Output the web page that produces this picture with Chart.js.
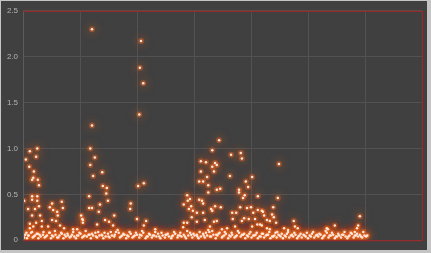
<!DOCTYPE html>
<html>
<head>
<meta charset="utf-8">
<script src="https://cdn.jsdelivr.net/npm/chart.js@4"></script>
<style>
  html, body { margin: 0; padding: 0; background: #c4c4c4; }
  #wrap { position: absolute; left: 1px; top: 1px; width: 426px; height: 249px; background: #404040; }
</style>
</head>
<body>
<div id="wrap"><canvas id="myChart" width="426" height="249"></canvas></div>
<script>
//y tick labels as shown on the left
var yTicks = [0, 0.5, 1, 1.5, 2, 2.5];

//scattered values above the floor, [x, y]
var spikes = [
  [1.21,2.30],[2.07,2.17],[2.05,1.88],[2.11,1.71],[2.04,1.37],[1.21,1.25],
  [1.18,1.00],[1.26,0.90],[1.18,0.82],[1.23,0.70],[1.39,0.74],[1.40,0.59],[1.47,0.57],[1.46,0.51],
  [1.16,0.48],[1.49,0.43],[1.35,0.39],[1.16,0.35],[1.21,0.35],[1.33,0.31],[1.60,0.27],[1.44,0.22],
  [1.51,0.20],[1.04,0.23],[1.05,0.19],[1.58,0.16],[1.30,0.17],
  [2.02,0.59],[2.12,0.62],[1.89,0.40],[1.88,0.34],[2.00,0.23],[2.16,0.21],[2.12,0.16],
  [0.12,0.97],[0.25,1.00],[0.05,0.88],[0.23,0.91],[0.11,0.80],[0.19,0.75],[0.18,0.68],[0.16,0.66],
  [0.26,0.66],[0.28,0.60],[0.02,0.43],[0.16,0.48],[0.25,0.48],[0.16,0.44],[0.25,0.43],[0.09,0.34],
  [0.21,0.34],[0.28,0.37],[0.16,0.27],[0.30,0.27],[0.33,0.21],[0.12,0.18],[0.23,0.19],[0.33,0.15],
  [0.18,0.15],[0.12,0.13],
  [0.51,0.40],[0.68,0.42],[0.47,0.36],[0.53,0.33],[0.60,0.31],[0.70,0.35],[0.61,0.27],[0.51,0.22],
  [0.58,0.21],[0.65,0.16],[0.72,0.13],[0.44,0.15],[1.02,0.27],[1.05,0.22],[0.95,0.12],[0.88,0.12],
  [2.88,0.49],[2.82,0.39],[2.89,0.43],[2.91,0.34],[2.82,0.19],[2.81,0.14],[2.32,0.12],
  [3.44,1.09],[3.32,0.98],[3.65,0.93],[3.82,0.95],[3.84,0.89],[3.12,0.86],[3.21,0.85],[3.37,0.84],
  [3.40,0.82],[3.32,0.80],[3.35,0.75],[3.12,0.75],[3.63,0.70],[3.23,0.69],[4.02,0.69],[3.09,0.64],
  [3.16,0.64],[3.91,0.64],[3.25,0.60],[3.95,0.58],[3.40,0.55],[3.46,0.56],[3.25,0.52],[3.79,0.55],
  [3.79,0.52],[3.89,0.49],[3.86,0.46],[4.12,0.48],[2.93,0.45],[3.14,0.43],[3.16,0.40],[3.09,0.44],
  [2.95,0.37],[3.37,0.37],[3.47,0.36],[3.30,0.34],[3.32,0.32],[3.81,0.36],[3.93,0.35],[4.00,0.36],
  [4.12,0.33],[3.67,0.30],[3.74,0.30],[4.04,0.30],[2.98,0.32],[3.05,0.30],[3.16,0.30],[2.96,0.25],
  [3.05,0.20],[3.19,0.22],[3.35,0.20],[3.40,0.21],[3.68,0.23],[3.84,0.21],[3.88,0.24],[3.96,0.23],
  [4.07,0.23],[2.88,0.19],[3.28,0.15],[3.25,0.11],[3.49,0.12],[3.58,0.13],[3.72,0.15],[4.02,0.15],
  [4.11,0.17],[4.19,0.32],
  [4.49,0.83],[4.47,0.46],[4.39,0.36],[4.21,0.31],[4.37,0.28],[4.40,0.25],[4.23,0.27],[4.33,0.21],
  [4.28,0.22],[4.44,0.19],[4.16,0.17],[4.19,0.16],[4.28,0.13],[4.33,0.12],[4.75,0.21],[4.77,0.15],
  [4.82,0.13],[4.58,0.13],[4.46,0.09],[4.65,0.11],[5.47,0.16],[5.35,0.12],[5.33,0.13],[5.91,0.26],
  [5.88,0.16],[5.86,0.13],[5.82,0.09]
];

//the dense floor of values near zero, [x, y]
var floor = [
  [0.00,0.04],[0.04,0.06],[0.07,0.02],[0.10,0.05],[0.14,0.08],[0.17,0.03],[0.21,0.05],[0.24,0.07],
  [0.27,0.02],[0.31,0.04],[0.35,0.06],[0.38,0.03],[0.42,0.05],[0.46,0.08],[0.49,0.02],[0.53,0.04],
  [0.57,0.06],[0.60,0.03],[0.64,0.05],[0.68,0.07],[0.71,0.02],[0.75,0.04],[0.79,0.05],[0.82,0.03],
  [0.86,0.06],[0.90,0.04],[0.93,0.02],[0.97,0.05],[1.01,0.07],[1.04,0.03],[1.08,0.05],[1.12,0.04],
  [1.15,0.06],[1.19,0.02],[1.23,0.05],[1.27,0.08],[1.30,0.03],[1.34,0.05],[1.38,0.06],[1.41,0.02],
  [1.45,0.04],[1.49,0.07],[1.52,0.03],[1.56,0.05],[1.60,0.04],[1.63,0.09],[1.66,0.11],[1.70,0.03],
  [1.74,0.05],[1.78,0.06],[1.81,0.02],[1.85,0.04],[1.89,0.07],[1.92,0.03],[1.96,0.05],[2.00,0.06],
  [2.04,0.03],[2.08,0.05],[2.11,0.08],[2.15,0.02],[2.19,0.04],[2.23,0.06],[2.26,0.03],[2.30,0.05],
  [2.34,0.04],[2.37,0.07],[2.41,0.02],[2.45,0.05],[2.49,0.03],[2.52,0.06],[2.56,0.04],[2.60,0.02],
  [2.63,0.05],[2.67,0.07],[2.71,0.03],[2.75,0.05],[2.78,0.04],[2.82,0.06],[2.86,0.02],[2.90,0.05],
  [2.93,0.08],[2.97,0.03],[3.01,0.05],[3.05,0.06],[3.08,0.02],[3.12,0.04],[3.16,0.07],[3.19,0.03],
  [3.23,0.05],[3.27,0.09],[3.30,0.04],[3.34,0.06],[3.38,0.02],[3.41,0.05],[3.45,0.08],[3.49,0.03],
  [3.53,0.05],[3.56,0.07],[3.60,0.02],[3.64,0.04],[3.67,0.06],[3.71,0.03],[3.75,0.05],[3.79,0.08],
  [3.82,0.04],[3.86,0.06],[3.90,0.02],[3.93,0.05],[3.97,0.07],[4.01,0.03],[4.04,0.05],[4.08,0.06],
  [4.12,0.02],[4.15,0.04],[4.19,0.07],[4.23,0.03],[4.26,0.05],[4.30,0.06],[4.34,0.02],[4.37,0.04],
  [4.41,0.05],[4.45,0.03],[4.48,0.06],[4.52,0.04],[4.56,0.02],[4.59,0.05],[4.63,0.07],[4.67,0.03],
  [4.70,0.05],[4.74,0.04],[4.78,0.06],[4.81,0.02],[4.85,0.05],[4.89,0.03],[4.92,0.06],[4.96,0.04],
  [5.00,0.02],[5.03,0.05],[5.07,0.07],[5.11,0.03],[5.14,0.05],[5.18,0.04],[5.22,0.06],[5.25,0.02],
  [5.29,0.05],[5.33,0.08],[5.36,0.03],[5.40,0.05],[5.44,0.06],[5.47,0.02],[5.51,0.04],[5.55,0.05],
  [5.58,0.03],[5.62,0.06],[5.66,0.04],[5.69,0.02],[5.73,0.05],[5.77,0.07],[5.80,0.03],[5.84,0.05],
  [5.88,0.04],[5.91,0.06],[5.95,0.03],[5.99,0.05],[6.02,0.04],
  [0.02,0.03],[0.09,0.05],[0.19,0.04],[0.29,0.06],[0.40,0.04],[0.51,0.05],[0.62,0.03],[0.73,0.06],
  [0.84,0.04],[0.95,0.05],[1.06,0.04],[1.17,0.06],[1.28,0.04],[1.39,0.05],[1.50,0.04],[1.61,0.06],
  [1.72,0.04],[1.83,0.05],[1.94,0.04],[2.05,0.06],[2.17,0.04],[2.28,0.05],[2.39,0.04],[2.50,0.06],
  [2.61,0.04],[2.72,0.05],[2.84,0.04],[2.95,0.06],[3.06,0.04],[3.17,0.05],[3.28,0.04],[3.39,0.06],
  [3.50,0.04],[3.62,0.05],[3.73,0.04],[3.84,0.06],[3.95,0.04],[4.06,0.05],[4.17,0.04],[4.28,0.06],
  [4.39,0.04],[4.50,0.05],[4.61,0.04],[4.72,0.06],[4.83,0.04],[4.94,0.05],[5.05,0.04],[5.16,0.06],
  [5.27,0.04],[5.38,0.05],[5.49,0.04],[5.60,0.06],[5.71,0.04],[5.82,0.05],[5.93,0.04],[6.04,0.05],
  [0.06,0.08],[0.16,0.09],[0.26,0.07],[0.36,0.09],[0.47,0.08],[0.56,0.10],[0.67,0.08],[0.78,0.07],
  [0.88,0.09],[0.99,0.08],[1.10,0.10],[1.21,0.07],[1.32,0.09],[1.43,0.08],[1.54,0.09],[1.68,0.08],
  [1.76,0.07],[1.87,0.09],[1.98,0.08],[2.09,0.10],[2.21,0.07],[2.32,0.09],[2.43,0.08],[2.54,0.07],
  [2.65,0.09],[2.76,0.08],[2.88,0.10],[2.99,0.07],[3.10,0.09],[3.21,0.08],[3.32,0.10],[3.43,0.07],
  [3.54,0.09],[3.66,0.08],[3.77,0.10],[3.88,0.07],[3.99,0.09],[4.10,0.08],[4.21,0.07],[4.32,0.09],
  [4.43,0.08],[4.54,0.07],[4.65,0.09],[4.76,0.08],[4.87,0.07],[4.98,0.08],[5.09,0.09],[5.20,0.07],
  [5.31,0.10],[5.42,0.08],[5.53,0.07],[5.64,0.09],[5.75,0.08],[5.86,0.07],[5.97,0.09]
];

var points = spikes.concat(floor).map((p) => ({x: p[0], y: p[1]}));

//glow for the first dataset, frame round the plot
var glowPlugin = {
  id: 'glow',
  beforeDatasetDraw(chart, args) {
    var ctx = chart.ctx;
    ctx.save();
    if (args.index === 0) {
      ctx.shadowColor = 'rgba(255,105,25,1)';
      ctx.shadowBlur = 8;
    }
  },
  afterDatasetDraw(chart) {
    chart.ctx.restore();
  },
  afterDraw(chart) {
    var ctx = chart.ctx, a = chart.chartArea;
    ctx.save();
    ctx.lineWidth = 1;
    ctx.strokeStyle = '#a82424';
    ctx.beginPath();
    ctx.moveTo(a.left, a.top + 0.5);
    ctx.lineTo(a.right + 0.5, a.top + 0.5);
    ctx.lineTo(a.right + 0.5, a.bottom + 0.5);
    ctx.lineTo(a.left, a.bottom + 0.5);
    ctx.stroke();
    ctx.strokeStyle = '#5c5c5c';
    ctx.beginPath();
    ctx.moveTo(a.left + 0.5, a.top + 1);
    ctx.lineTo(a.left + 0.5, a.bottom);
    ctx.stroke();
    ctx.restore();
  }
};

var ctx = document.getElementById('myChart').getContext('2d');
var myChart = new Chart(ctx, {
  type: 'scatter',
  data: {
    datasets: [{
      //glow, drawn underneath
      data: points,
      order: 1,
      pointRadius: 3,
      pointHoverRadius: 3,
      borderWidth: 0,
      backgroundColor: 'rgba(220,95,35,0.5)'
    }, {
      //bright core, drawn on top
      data: points,
      order: 0,
      pointRadius: 1.25,
      pointHoverRadius: 1.25,
      borderWidth: 0,
      backgroundColor: '#ffe8da'
    }]
  },
  options: {
    responsive: false,
    animation: false,
    events: [],
    layout: { padding: { top: 9, right: 5, bottom: 8, left: 0 } },
    plugins: { legend: { display: false }, tooltip: { enabled: false } },
    scales: {
      x: {
        type: 'linear',
        min: 0,
        max: 7,
        ticks: { display: false, stepSize: 1 },
        grid: { color: '#525252', drawTicks: false },
        border: { display: false },
        afterFit(scale) { scale.height = 0; }
      },
      y: {
        min: 0,
        max: 2.5,
        afterBuildTicks(scale) { scale.ticks = yTicks.map((v) => ({value: v})); },
        ticks: {
          color: '#b4b4b4',
          font: { family: 'Liberation Sans', size: 8 },
          padding: 5
        },
        grid: { color: '#525252', drawTicks: false },
        border: { display: false },
        afterFit(scale) { scale.width = 22; }
      }
    }
  },
  plugins: [glowPlugin]
});
</script>
</body>
</html>
